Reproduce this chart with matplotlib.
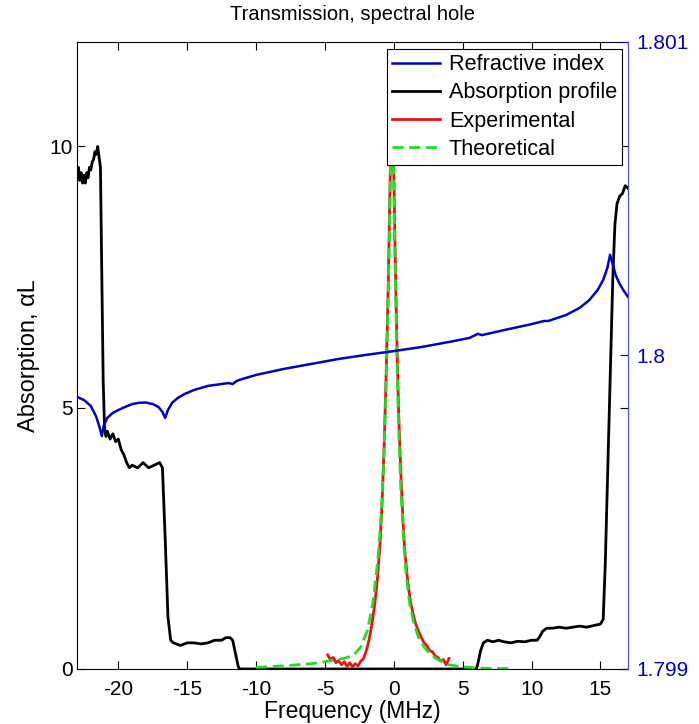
import matplotlib
matplotlib.use('Agg')
import matplotlib.pyplot as plt

plt.rcParams['font.family'] = ['Liberation Sans', 'DejaVu Sans']
plt.rcParams['font.size'] = 15
plt.rcParams['axes.unicode_minus'] = False

# Absorption profile (left axis)
abs_x = [-23.0, -22.9, -22.8, -22.7, -22.6, -22.5, -22.4, -22.3, -22.2, -22.1,
         -22.0, -21.9, -21.8, -21.7, -21.6, -21.5, -21.4, -21.3, -21.2, -21.1,
         -21.0, -20.9, -20.8, -20.6, -20.4, -20.2, -20.0, -19.8, -19.6, -19.4,
         -19.2, -19.0, -18.6, -18.2, -17.8, -17.4, -17.0, -16.8, -16.6, -16.4,
         -16.2, -16.0, -15.5, -15.0, -14.5, -14.0, -13.5, -13.0, -12.5, -12.2,
         -11.9, -11.7, -11.5, -11.3, -11.2, 6.0, 6.1, 6.3, 6.5, 6.8,
         7.2, 7.6, 8.0, 8.5, 9.0, 9.5, 10.0, 10.4, 10.6, 10.8,
         11.1, 11.5, 12.0, 12.5, 13.0, 13.5, 14.0, 14.5, 15.0, 15.2,
         15.35, 15.5, 15.7, 15.9, 16.05, 16.2, 16.4, 16.6, 16.8, 17.0]
abs_y = [9.45, 9.6, 9.35, 9.5, 9.3, 9.45, 9.3, 9.5, 9.4, 9.6,
         9.55, 9.7, 9.75, 9.9, 9.85, 10.0, 9.8, 9.6, 7.5, 5.5,
         4.6, 4.45, 4.55, 4.4, 4.5, 4.35, 4.4, 4.2, 4.1, 3.95,
         3.85, 3.9, 3.85, 3.95, 3.85, 3.9, 3.95, 3.85, 2.5, 1.0,
         0.55, 0.5, 0.45, 0.5, 0.5, 0.48, 0.5, 0.55, 0.55, 0.6,
         0.6, 0.55, 0.3, 0.05, 0.0, 0.0, 0.1, 0.35, 0.5, 0.55,
         0.52, 0.55, 0.52, 0.5, 0.53, 0.52, 0.55, 0.55, 0.62, 0.72,
         0.78, 0.78, 0.8, 0.78, 0.8, 0.82, 0.8, 0.83, 0.86, 0.95,
         2.0, 3.5, 5.5, 7.5, 8.5, 8.9, 9.05, 9.1, 9.25, 9.2]

# Refractive index (right axis)
ri_x = [-23, -22.5, -22, -21.6, -21.35, -21.2, -21.05, -20.8, -20.4, -20,
        -19.5, -19, -18.5, -18, -17.5, -17.1, -16.8, -16.6, -16.4, -16.1,
        -15.7, -15.2, -14.5, -13.5, -12.5, -12.0, -11.7, -11.4, -11, -10,
        -8, -6, -4, -2, 0, 2, 4, 5.5, 6.1, 6.4,
        8, 10, 10.9, 11.2, 12.5, 13.5, 14.2, 14.8, 15.2, 15.5,
        15.7, 15.85, 16.1, 16.4, 16.7, 17]
ri_y = [1.799868, 1.799858, 1.799839, 1.799804, 1.799769, 1.799743, 1.799778, 1.799801, 1.799817, 1.799826,
        1.799836, 1.799845, 1.799849, 1.799850, 1.799845, 1.799836, 1.799820, 1.799801, 1.799826, 1.799849,
        1.799864, 1.799877, 1.799890, 1.799903, 1.799909, 1.799912, 1.799909, 1.799919, 1.799925, 1.799938,
        1.799957, 1.799973, 1.799989, 1.800002, 1.800014, 1.800027, 1.800043, 1.800056, 1.800069, 1.800065,
        1.800081, 1.800100, 1.800110, 1.800110, 1.800129, 1.800152, 1.800177, 1.800209, 1.800241, 1.800279,
        1.800321, 1.800298, 1.800257, 1.800228, 1.800206, 1.800187]

# Experimental spectral hole
exp_x = [-4.8, -4.6, -4.4, -4.2, -4.0, -3.8, -3.6, -3.4, -3.2, -3.0,
         -2.8, -2.6, -2.4, -2.2, -2.0, -1.8, -1.6, -1.4, -1.2, -1.0,
         -0.85, -0.7, -0.55, -0.4, -0.28, -0.15, -0.02, 0.1, 0.22, 0.35,
         0.5, 0.65, 0.8, 1.0, 1.2, 1.4, 1.6, 1.8, 2.0, 2.2,
         2.4, 2.6, 2.8, 3.0, 3.2, 3.4, 3.6, 3.8, 4.0]
exp_y = [0.27, 0.18, 0.22, 0.12, 0.16, 0.08, 0.14, 0.05, 0.12, 0.04,
         0.1, 0.06, 0.15, 0.2, 0.35, 0.55, 0.85, 1.2, 1.7, 2.4,
         3.2, 4.3, 5.7, 7.4, 9.2, 11.0, 9.8, 7.9, 6.3, 4.9,
         3.8, 2.9, 2.25, 1.7, 1.3, 1.05, 0.85, 0.72, 0.6, 0.5,
         0.45, 0.35, 0.33, 0.25, 0.22, 0.15, 0.18, 0.08, 0.2]

# Theoretical spectral hole
th_x = [-10, -8, -6, -4.5, -3.5, -2.9, -2.4, -1.9, -1.5, -1.16,
        -0.9, -0.7, -0.55, -0.4, -0.28, -0.15, -0.02, 0.1, 0.22, 0.35,
        0.5, 0.7, 0.9, 1.15, 1.45, 1.8, 2.2, 2.7, 3.2, 4,
        5, 6, 7, 8.5]
th_y = [0.03, 0.06, 0.1, 0.16, 0.21, 0.27, 0.42, 0.75, 1.3, 2.1,
        3.0, 4.2, 5.5, 7.2, 9.0, 11.0, 9.6, 7.6, 6.0, 4.6,
        3.5, 2.5, 1.8, 1.25, 0.88, 0.6, 0.42, 0.27, 0.18, 0.08,
        0.04, 0.02, 0.01, 0.01]

blue = '#0000c8'

fig = plt.figure(figsize=(6.99, 7.24), dpi=100)
ax = fig.add_axes([0.1102, 0.0760, 0.7882, 0.8660])
ax2 = ax.twinx()

l_abs, = ax.plot(abs_x, abs_y, color='black', lw=2, label='Absorption profile')
l_exp, = ax.plot(exp_x, exp_y, color='#ee1111', lw=2, label='Experimental')
l_th, = ax.plot(th_x, th_y, color='#22dd22', lw=2, ls='--', dashes=(4, 2),
                label='Theoretical')
l_ri, = ax2.plot(ri_x, ri_y, color=blue, lw=1.8, label='Refractive index')

ax.set_xlim(-23, 17)
ax.set_ylim(0, 12)
ax.set_xticks([-20, -15, -10, -5, 0, 5, 10, 15])
ax.set_yticks([0, 5, 10])
ax.tick_params(direction='in', top=True, right=True, length=6)
ax.tick_params(axis='x', pad=8)
ax.tick_params(axis='y', pad=3)
ax.set_xlabel('Frequency (MHz)', fontsize=16.5, labelpad=1)
ax.set_ylabel('Absorption, αL', fontsize=17, labelpad=7)
ax.set_title('Transmission, spectral hole', fontsize=14.5, pad=16)

ax2.set_ylim(1.799, 1.801)
ax2.set_yticks([1.799, 1.8, 1.801])
ax2.set_yticklabels(['1.799', '1.8', '1.801'])
ax2.tick_params(direction='in', colors=blue, length=6, pad=6)
ax2.spines['right'].set_color('#5555cc')
for s in ['left', 'top', 'bottom']:
    ax2.spines[s].set_visible(False)

leg = ax2.legend(handles=[l_ri, l_abs, l_exp, l_th], loc='upper right',
                 bbox_to_anchor=(0.99, 0.989), fancybox=False, framealpha=1,
                 edgecolor='black', fontsize=15.6, handlelength=2.2,
                 borderpad=0.25, labelspacing=0.33, handletextpad=0.4,
                 borderaxespad=0)
leg.get_frame().set_linewidth(0.8)

fig.savefig('out.png', dpi=100)
